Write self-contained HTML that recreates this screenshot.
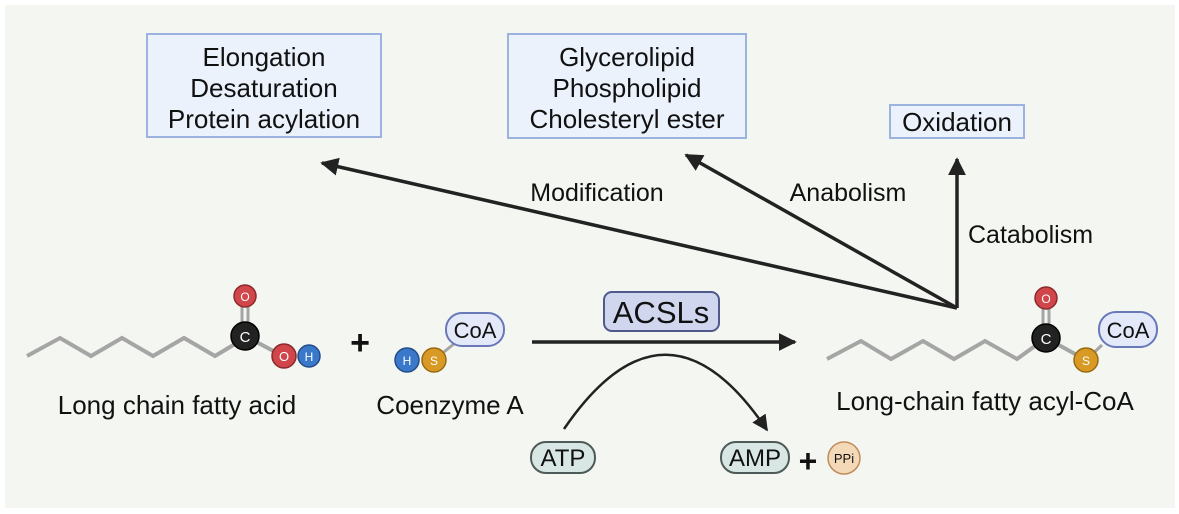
<!DOCTYPE html>
<html><head><meta charset="utf-8"><style>
html,body{margin:0;padding:0;background:#fff}
svg{display:block}
text{font-family:"Liberation Sans",sans-serif;fill:#111}
</style></head><body>
<svg width="1179" height="514" viewBox="0 0 1179 514" xmlns="http://www.w3.org/2000/svg">
<defs>
<marker id="ah" viewBox="0 0 10 10" refX="9" refY="5" markerWidth="16" markerHeight="16" markerUnits="userSpaceOnUse" orient="auto"><path d="M0,0 L10,5 L0,10 z" fill="#222"/></marker>
<marker id="ah2" viewBox="0 0 10 10" refX="9" refY="5" markerWidth="18" markerHeight="18" markerUnits="userSpaceOnUse" orient="auto"><path d="M0,0 L10,5 L0,10 z" fill="#222"/></marker>
</defs>
<rect x="5" y="5" width="1170" height="503" fill="#f4f7f1"/>
<rect x="147" y="34" width="234" height="103" fill="#ebf2fc" stroke="#9db3df" stroke-width="2"/>
<text x="264" y="66" font-size="26" text-anchor="middle">Elongation</text>
<text x="264" y="97" font-size="26" text-anchor="middle">Desaturation</text>
<text x="264" y="128" font-size="26" text-anchor="middle">Protein acylation</text>
<rect x="508" y="34" width="238" height="104" fill="#ebf2fc" stroke="#9db3df" stroke-width="2"/>
<text x="627" y="66" font-size="26" text-anchor="middle">Glycerolipid</text>
<text x="627" y="97" font-size="26" text-anchor="middle">Phospholipid</text>
<text x="627" y="128" font-size="26" text-anchor="middle">Cholesteryl ester</text>
<rect x="890" y="105" width="134" height="33" fill="#ebf2fc" stroke="#9db3df" stroke-width="2"/>
<text x="957" y="131" font-size="26" text-anchor="middle">Oxidation</text>
<g stroke="#222" stroke-width="3.5" fill="none">
<line x1="957" y1="308" x2="322" y2="163" marker-end="url(#ah2)"/>
<line x1="957" y1="308" x2="686" y2="155" marker-end="url(#ah2)"/>
<line x1="957" y1="308" x2="957" y2="159" marker-end="url(#ah2)"/>
</g>
<text x="597" y="201" font-size="25" text-anchor="middle">Modification</text>
<text x="848" y="201" font-size="25" text-anchor="middle">Anabolism</text>
<text x="968" y="243" font-size="25">Catabolism</text>
<polyline points="27,356 60,338 91,356 122,338 153,356 184,338 215,356 245,338" fill="none" stroke="#a5a5a5" stroke-width="4"/>
<line x1="245" y1="336" x2="283" y2="356" stroke="#a5a5a5" stroke-width="4"/>
<line x1="242" y1="300" x2="242" y2="334" stroke="#a5a5a5" stroke-width="3"/>
<line x1="248" y1="300" x2="248" y2="334" stroke="#a5a5a5" stroke-width="3"/>
<circle cx="245" cy="296" r="11" fill="#d1464a" stroke="#8a2a2a" stroke-width="1.5"/>
<text x="245" y="301" font-size="12" text-anchor="middle" style="fill:#fff">O</text>
<circle cx="245" cy="336" r="14" fill="#222" stroke="#000" stroke-width="1.5"/>
<text x="245" y="342" font-size="15" text-anchor="middle" style="fill:#fff">C</text>
<circle cx="309" cy="356" r="11" fill="#3a78c9" stroke="#234d88" stroke-width="1.5"/>
<text x="309" y="361" font-size="12" text-anchor="middle" style="fill:#fff">H</text>
<circle cx="284" cy="356" r="12" fill="#d1464a" stroke="#8a2a2a" stroke-width="1.5"/>
<text x="284" y="361" font-size="13" text-anchor="middle" style="fill:#fff">O</text>
<text x="360" y="354" font-size="34" font-weight="bold" text-anchor="middle">+</text>
<line x1="434" y1="360" x2="455" y2="343" stroke="#a5a5a5" stroke-width="3"/>
<circle cx="407" cy="360" r="12" fill="#3a78c9" stroke="#234d88" stroke-width="1.5"/>
<text x="407" y="365" font-size="12" text-anchor="middle" style="fill:#fff">H</text>
<circle cx="434" cy="360" r="12" fill="#d89a24" stroke="#9a6a12" stroke-width="1.5"/>
<text x="434" y="365" font-size="12" text-anchor="middle" style="fill:#fff">S</text>
<rect x="446" y="313" width="58" height="33" rx="16" fill="#e4e9fa" stroke="#6878b8" stroke-width="2"/>
<text x="475" y="338" font-size="22" text-anchor="middle">CoA</text>
<text x="177" y="414" font-size="26" text-anchor="middle">Long chain fatty acid</text>
<text x="450" y="414" font-size="26" text-anchor="middle">Coenzyme A</text>
<rect x="604" y="292" width="115" height="39" rx="8" fill="#cfd6ee" stroke="#4f5a8a" stroke-width="2"/>
<text x="661" y="323" font-size="31" text-anchor="middle">ACSLs</text>
<line x1="532" y1="342" x2="795" y2="342" stroke="#222" stroke-width="3.5" marker-end="url(#ah2)"/>
<path d="M564,429 Q666,280 767,430" fill="none" stroke="#222" stroke-width="2.5" marker-end="url(#ah)"/>
<rect x="531" y="442" width="64" height="31" rx="15" fill="#d8e6e4" stroke="#4d5a58" stroke-width="2"/>
<text x="563" y="466" font-size="24" text-anchor="middle">ATP</text>
<rect x="721" y="442" width="68" height="31" rx="15" fill="#d8e6e4" stroke="#4d5a58" stroke-width="2"/>
<text x="755" y="466" font-size="24" text-anchor="middle">AMP</text>
<text x="808" y="472" font-size="32" font-weight="bold" text-anchor="middle">+</text>
<circle cx="844" cy="458" r="16" fill="#f3d9b8" stroke="#c08c5a" stroke-width="1.5"/>
<text x="844" y="463" font-size="13" text-anchor="middle">PPi</text>
<polyline points="827,359 861,341 891,359 923,341 954,359 985,341 1017,359 1046,338" fill="none" stroke="#a5a5a5" stroke-width="4"/>
<line x1="1046" y1="338" x2="1086" y2="360" stroke="#a5a5a5" stroke-width="4"/>
<line x1="1086" y1="360" x2="1102" y2="345" stroke="#a5a5a5" stroke-width="3"/>
<line x1="1043" y1="302" x2="1043" y2="334" stroke="#a5a5a5" stroke-width="3"/>
<line x1="1049" y1="302" x2="1049" y2="334" stroke="#a5a5a5" stroke-width="3"/>
<circle cx="1046" cy="298" r="11" fill="#d1464a" stroke="#8a2a2a" stroke-width="1.5"/>
<text x="1046" y="303" font-size="12" text-anchor="middle" style="fill:#fff">O</text>
<circle cx="1046" cy="338" r="14" fill="#222" stroke="#000" stroke-width="1.5"/>
<text x="1046" y="344" font-size="15" text-anchor="middle" style="fill:#fff">C</text>
<circle cx="1086" cy="360" r="12" fill="#d89a24" stroke="#9a6a12" stroke-width="1.5"/>
<text x="1086" y="365" font-size="12" text-anchor="middle" style="fill:#fff">S</text>
<rect x="1099" y="312" width="58" height="35" rx="17" fill="#e4e9fa" stroke="#6878b8" stroke-width="2"/>
<text x="1128" y="338" font-size="22" text-anchor="middle">CoA</text>
<text x="985" y="410" font-size="26" text-anchor="middle">Long-chain fatty acyl-CoA</text>
</svg>
</body></html>
